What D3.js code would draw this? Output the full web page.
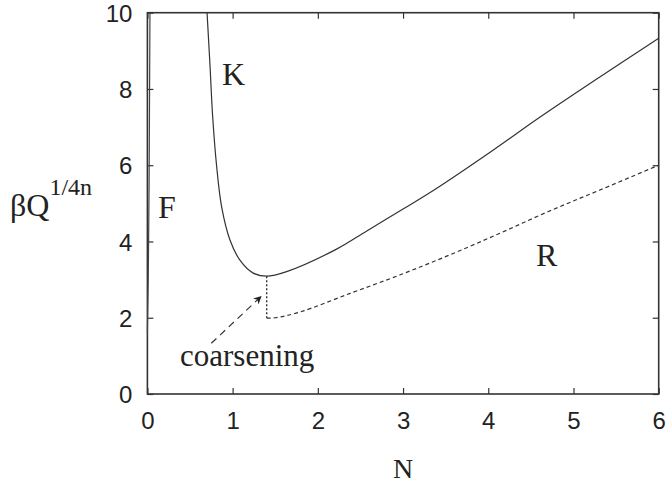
<!DOCTYPE html>
<html>
<head>
<meta charset="utf-8">
<script src="https://cdn.jsdelivr.net/npm/d3@7"></script>
<style>
  body { margin: 0; background: #fff; }
  svg { display: block; }
</style>
</head>
<body>
<div id="graph"></div>
<script>
// curve K (solid), curve R (dashed), branch F near N=0
var kN = [0.70, 0.735, 0.766, 0.813, 0.871, 0.969, 1.086, 1.242, 1.4, 1.634, 2.22, 2.57, 3.0, 3.35, 4.06, 4.6, 5.3, 6.0];
var kY = [10, 8.6, 7.27, 5.96, 4.91, 4.04, 3.51, 3.17, 3.09, 3.21, 3.8, 4.27, 4.85, 5.33, 6.4, 7.25, 8.3, 9.33];

var rN = [1.4, 1.5, 1.79, 2.38, 2.96, 3.55, 4.14, 4.7, 5.31, 6.0];
var rY = [1.99, 2.0, 2.15, 2.64, 3.12, 3.65, 4.22, 4.78, 5.35, 6.0];

var fN = [0.0, 0.01, 0.02, 0.03];
var fY = [1.6, 3.0, 5.5, 10];

// coarsening jump K -> R
var jumpN = [1.4, 1.4];
var jumpY = [3.09, 1.99];

// arrow for the "coarsening" label
var arrowN = [0.75, 1.34];
var arrowY = [1.33, 2.57];

var xTicks = [0, 1, 2, 3, 4, 5, 6];
var yTicks = [0, 2, 4, 6, 8, 10];

var width = 669;
var height = 486;
var plotLeft = 147.4, plotRight = 658.7, plotTop = 12.7, plotBottom = 394;

var svg = d3.select("#graph").
append("svg").
attr("width", width).
attr("height", height);

var defs = svg.append("defs");
defs.append("marker").
attr("id", "head").
attr("viewBox", "0 0 10 10").
attr("refX", 10).
attr("refY", 5).
attr("markerWidth", 11).
attr("markerHeight", 8).
attr("markerUnits", "userSpaceOnUse").
attr("orient", "auto").
append("path").
attr("d", "M0,0 L10,5 L0,10 L3,5 Z").
attr("fill", "#222");

var xScale = d3.scaleLinear().domain([0, 6]).range([plotLeft, plotRight]);
var yScale = d3.scaleLinear().domain([0, 10]).range([plotBottom, plotTop]);

function pts(xs, ys) {
   return xs.map(function (x, i) {return [x, ys[i]];});
}

var line = d3.line().
x(function (d) {return xScale(d[0]);}).
y(function (d) {return yScale(d[1]);});

var smooth = d3.line().
curve(d3.curveCatmullRom.alpha(0.5)).
x(function (d) {return xScale(d[0]);}).
y(function (d) {return yScale(d[1]);});

// axes, ticks pointing inward on every side
var tickFont = "'Liberation Sans', Arial, sans-serif";
var fmt = d3.format("d");

var xAxis = svg.append("g").
attr("transform", "translate(0," + plotBottom + ")").
call(d3.axisBottom(xScale).tickValues(xTicks).tickFormat(fmt).tickSizeInner(-6).tickSizeOuter(0).tickPadding(18));
var xTop = svg.append("g").
attr("transform", "translate(0," + plotTop + ")").
call(d3.axisTop(xScale).tickValues(xTicks).tickSizeInner(-6).tickSizeOuter(0).tickFormat(""));
var yAxis = svg.append("g").
attr("transform", "translate(" + plotLeft + ",0)").
call(d3.axisLeft(yScale).tickValues(yTicks).tickFormat(fmt).tickSizeInner(-6).tickSizeOuter(0).tickPadding(15));
var yRight = svg.append("g").
attr("transform", "translate(" + plotRight + ",0)").
call(d3.axisRight(yScale).tickValues(yTicks).tickSizeInner(-6).tickSizeOuter(0).tickFormat(""));

[xAxis, xTop, yAxis, yRight].forEach(function (g) {
   g.select(".domain").remove();
   g.selectAll(".tick line").attr("stroke", "#333").attr("stroke-width", 1.2);
   g.selectAll("text").
   attr("fill", "#222").
   style("font-family", tickFont).
   style("font-size", "24px");
});
xAxis.selectAll("text").attr("dy", "0.71em");
yAxis.selectAll("text").attr("dy", "0.36em");

svg.append("rect").
attr("x", plotLeft).
attr("y", plotTop).
attr("width", plotRight - plotLeft).
attr("height", plotBottom - plotTop).
attr("fill", "none").
attr("stroke", "#333").
attr("stroke-width", 1.6);

// curves
svg.append("path").
datum(pts(fN, fY)).
attr("d", line).
attr("fill", "none").
attr("stroke", "#444").
attr("stroke-width", 1.2);

svg.append("path").
datum(pts(kN, kY)).
attr("d", smooth).
attr("fill", "none").
attr("stroke", "#333").
attr("stroke-width", 1.2);

svg.append("path").
datum(pts(rN, rY)).
attr("d", smooth).
attr("fill", "none").
attr("stroke", "#333").
attr("stroke-width", 1.2).
attr("stroke-dasharray", "4,3");

svg.append("path").
datum(pts(jumpN, jumpY)).
attr("d", line).
attr("fill", "none").
attr("stroke", "#333").
attr("stroke-width", 1.4).
attr("stroke-dasharray", "2,2");

svg.append("path").
datum(pts(arrowN, arrowY)).
attr("d", line).
attr("fill", "none").
attr("stroke", "#333").
attr("stroke-width", 1.2).
attr("stroke-dasharray", "7,5").
attr("marker-end", "url(#head)");

// labels
var serif = "'Liberation Serif', 'Times New Roman', serif";

function label(txt, x, y, size, anchor) {
   return svg.append("text").
   attr("x", x).
   attr("y", y).
   attr("fill", "#222").
   style("font-family", serif).
   style("font-size", size + "px").
   style("text-anchor", anchor || "start").
   text(txt);
}

label("K", 222, 85, 32);
label("F", 158, 218, 32);
label("R", 536, 266, 32);
label("coarsening", 180, 366, 31);
label("N", xScale(3), 478, 28, "middle");

var yLab = svg.append("text").
attr("x", 10).
attr("y", 216).
attr("fill", "#222").
style("font-family", serif).
style("font-size", "32px");
yLab.append("tspan").text("\u03b2Q");
yLab.append("tspan").
attr("dy", -21).
style("font-size", "24px").
text("1/4n");
</script>
</body>
</html>
